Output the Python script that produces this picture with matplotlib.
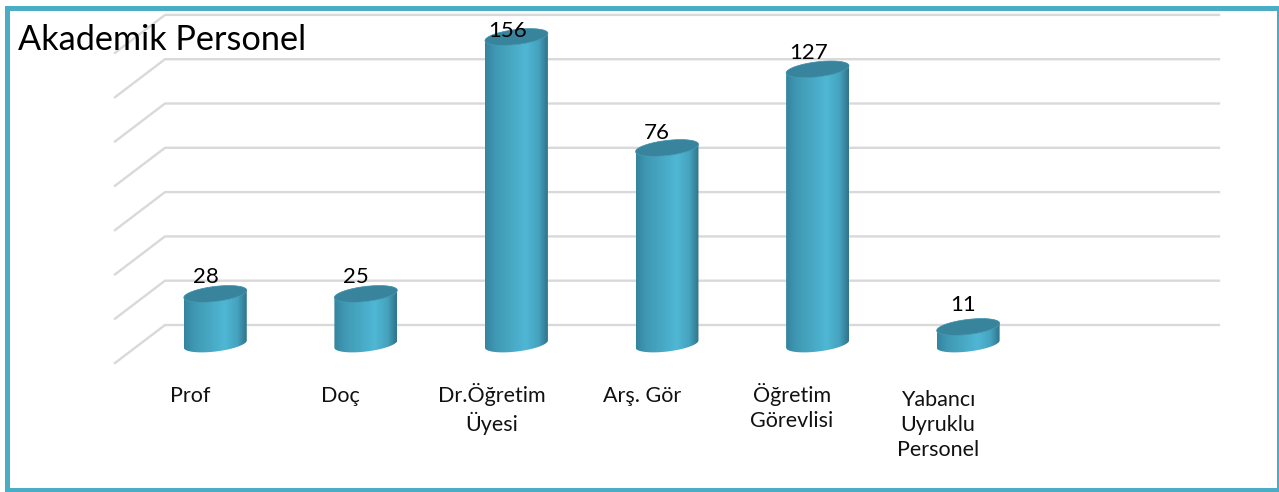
import numpy as np
import matplotlib.pyplot as plt
from matplotlib.colors import LinearSegmentedColormap
from matplotlib.patches import PathPatch, Rectangle
from matplotlib.path import Path
from matplotlib.transforms import ScaledTranslation

plt.rcParams['font.family'] = ['Lato', 'DejaVu Sans']

categories = ["Prof", "Doç", "Dr.Öğretim\nÜyesi", "Arş. Gör", "Öğretim\nGörevlisi",
              "Yabancı\nUyruklu\nPersonel"]
# printed labels
values = [28, 25, 156, 76, 127, 11]
# the drawn heights do not follow the printed labels, so read them off the gridlines
bar_heights = [22.6, 22.6, 138.6, 88.5, 124, 7.7]
grid_values = [0, 20, 40, 60, 80, 100, 120, 140]

W, H = 1279, 492
fig = plt.figure(figsize=(W / 100, H / 100), dpi=100, facecolor='white')

# axes placed on the middle plane of the fake 3D floor
left, right, y_zero = 140, 1194, 344
px_y = 2.215
y_lo, y_hi = -10, 150
ax = fig.add_axes([left / W, (H - y_zero + y_lo * px_y) / H, (right - left) / W,
                   (y_hi - y_lo) * px_y / H])
ax.set_xlim(-0.5, 6.5)
ax.set_ylim(y_lo, y_hi)
ax.autoscale(False)
ax.set_yticks([])
for s in ax.spines.values():
    s.set_visible(False)

px_x = (right - left) / 7
depth_x = 25 / px_x
depth_y = 19 / px_y

# back wall lines and side wall diagonals
for v in grid_values:
    ax.plot([-0.5 - depth_x, -0.5 + depth_x, 6.5 + depth_x],
            [v - depth_y, v + depth_y, v + depth_y],
            color='#d9d9d9', lw=1.7, zorder=1, clip_on=False)

cyl = LinearSegmentedColormap.from_list(
    'cyl', [(0, '#34849e'), (0.15, '#3f97b2'), (0.65, '#4fb7d4'),
            (0.85, '#45a3bf'), (1, '#2f7389')])
gradient = np.linspace(0, 1, 256).reshape(1, -1)

a, b, tilt = 31.7, 7.5, np.arctan(0.122)
half_w = a * np.cos(tilt)


def ellipse(xc, yc, t):
    x = a * np.cos(t) * np.cos(tilt) - b * np.sin(t) * np.sin(tilt)
    y = a * np.cos(t) * np.sin(tilt) + b * np.sin(t) * np.cos(tilt)
    return np.column_stack([xc + x / px_x, yc + y / px_y])


label_shift = [(-9, 17), (-10, 17), (-9, 6), (-10, 15), (-9, 16), (-5, 22)]

for i, h in enumerate(bar_heights):
    lower = ellipse(i, 0, np.linspace(np.pi, 2 * np.pi, 60))
    upper = ellipse(i, h, np.linspace(0, np.pi, 60))
    outline = np.vstack([lower, upper, lower[:1]])
    body = PathPatch(Path(outline), fc='none', ec='none', zorder=2)
    ax.add_patch(body)
    im = ax.imshow(gradient, cmap=cyl, aspect='auto', zorder=2, interpolation='bilinear',
                   extent=[i - half_w / px_x, i + half_w / px_x, -8, h + 8])
    im.set_clip_path(body)
    top = Path(np.vstack([ellipse(i, h, np.linspace(0, 2 * np.pi, 120))]))
    ax.add_patch(PathPatch(top, fc='#38849c', ec='#4a9ab2', lw=0.5, zorder=3))
    dx, dy = label_shift[i]
    ax.annotate(str(values[i]), (i, h), xytext=(dx * 0.72, dy * 0.72),
                textcoords='offset points', ha='center', va='center',
                fontsize=16, color='black', zorder=4)

# category labels sit on the front edge of the floor
ax.set_xticks(range(len(categories)), labels=categories)
ax.tick_params(axis='x', length=0, pad=14, labelsize=15.5, labelcolor='#111111')
tick_nudge = [(-25, 0), (-25, 0), (-25, 3), (-25, 0), (-26, 3), (-30, -4)]
for lab, (nx, ny) in zip(ax.get_xticklabels(), tick_nudge):
    shift = ScaledTranslation(nx / 100, ny / 100, fig.dpi_scale_trans)
    lab.set_transform(lab.get_transform() + shift)
    lab.set_linespacing(1.33)

fig.suptitle("Akademik Personel", x=18 / W, y=1 - 50 / H, ha='left', va='baseline',
             fontsize=24.7, color='black')

# frame around the picture, the right side runs off the edge
fig.add_artist(Rectangle((6.5 / W, 2 / H), 1272 / W, 482.5 / H, transform=fig.transFigure,
                         fc='none', ec='#4bacc6', lw=3.6, zorder=10))

fig.savefig('out.png', dpi=100)
